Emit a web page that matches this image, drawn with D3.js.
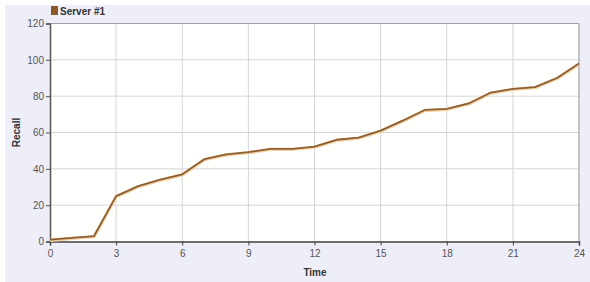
<!DOCTYPE html>
<html><head><meta charset="utf-8">
<script src="https://cdn.jsdelivr.net/npm/d3@7"></script>
<style>
html,body{margin:0;padding:0;background:#fff;}
svg{display:block;}
text{font-family:Arial,"Liberation Sans",sans-serif;}
</style></head>
<body>
<svg id="c" width="590" height="282"></svg>
<script>
const hours = [0,1,2,3,4,5,6,7,8,9,10,11,12,13,14,15,16,17,18,19,20,21,22,23,24];
const recall = [1,2,3,25,30.5,34,37,45.3,48,49.2,51,51,52.2,56,57.2,61,66.5,72.4,73,76,82,84,85,90,98];
const xTicks = [0,3,6,9,12,15,18,21,24];
const yTicks = [0,20,40,60,80,100,120];
const seriesName = "Server #1";

const svg = d3.select("#c");
const W = 590, H = 282;
const L = 50, R = 579, T = 23.5, B = 241.5;

svg.append("rect").attr("x",5).attr("y",5).attr("width",W-5).attr("height",H-5).attr("fill","#eeeef9");

const x = d3.scaleLinear().domain([0,24]).range([L,R]);
const y = d3.scaleLinear().domain([0,120]).range([B,T]);

svg.append("rect").attr("x",L).attr("y",T).attr("width",R-L).attr("height",B-T).attr("fill","#fffffd");

// grid
svg.append("g").selectAll("line").data(yTicks.slice(1)).join("line")
  .attr("x1",L).attr("x2",R).attr("y1",d=>y(d)).attr("y2",d=>y(d))
  .attr("stroke","#d6d6d6").attr("stroke-width",1);
svg.append("g").selectAll("line").data(xTicks.slice(1)).join("line")
  .attr("x1",d=>x(d)).attr("x2",d=>x(d)).attr("y1",T).attr("y2",B)
  .attr("stroke","#d6d6d6").attr("stroke-width",1);

// border top/right
svg.append("line").attr("x1",L).attr("x2",R).attr("y1",T).attr("y2",T).attr("stroke","#a0a0a8");
svg.append("line").attr("x1",R).attr("x2",R).attr("y1",T).attr("y2",B).attr("stroke","#a0a0a8");

// axes
const xAxis = d3.axisBottom(x).tickValues(xTicks).tickSize(4).tickPadding(4);
const gx = svg.append("g").attr("transform",`translate(0,${B})`).call(xAxis);
gx.select(".domain").attr("stroke","#444").attr("stroke-width",1.5);
gx.selectAll(".tick line").attr("stroke","#444");
gx.selectAll("text").attr("fill","#555").attr("font-size",10);

const yAxis = d3.axisLeft(y).tickValues(yTicks).tickSize(4).tickPadding(2);
const gy = svg.append("g").attr("transform",`translate(${L},0)`).call(yAxis);
gy.select(".domain").attr("stroke","#555").attr("stroke-width",1.5);
gy.selectAll(".tick line").attr("stroke","#555");
gy.selectAll("text").attr("fill","#555").attr("font-size",10);

// line
const line = d3.line().x((d,i)=>x(hours[i])).y(d=>y(d));
svg.append("path").datum(recall).attr("d",line).attr("fill","none")
  .attr("stroke","#f2cf9c").attr("stroke-width",3.2).attr("stroke-linejoin","round")
  .attr("transform","translate(0,0.6)");
svg.append("path").datum(recall).attr("d",line).attr("fill","none")
  .attr("stroke","#8c5f36").attr("stroke-width",1.8).attr("stroke-linejoin","round");

// labels
svg.append("text").attr("x",315).attr("y",276).attr("text-anchor","middle")
  .attr("font-size",10).attr("font-weight","bold").attr("fill","#333").text("Time");
svg.append("text").attr("transform",`translate(20,${(T+B)/2}) rotate(-90)`).attr("text-anchor","middle")
  .attr("font-size",10).attr("font-weight","bold").attr("fill","#333").text("Recall");

// legend
svg.append("rect").attr("x",51).attr("y",6).attr("width",7).attr("height",9).attr("fill","#8b5a2b");
svg.append("text").attr("x",60).attr("y",14.5).attr("font-size",10).attr("font-weight","bold").attr("fill","#333").text(seriesName);
</script>
</body></html>
